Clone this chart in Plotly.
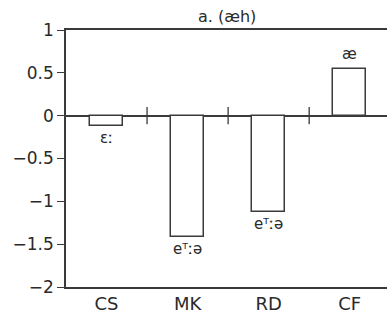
import plotly.graph_objects as go

categories = ["CS", "MK", "RD", "CF"]
values = [-0.12, -1.42, -1.13, 0.55]
phones = ["ɛː", "eᵀːə", "eᵀːə", "æ"]
title_text = "a. (æh)"
y_ticks = [1, 0.5, 0, -0.5, -1, -1.5, -2]

line_col = "#3a3a3a"
text_col = "#2a2a2a"
font_fam = "DejaVu Sans, Liberation Sans, Arial"

fig = go.Figure()
fig.add_trace(go.Bar(
    x=categories, y=values, width=0.41,
    marker=dict(color="white", line=dict(color=line_col, width=1.5)),
    showlegend=False, hoverinfo="skip",
))

annotations = []
for c, v, p in zip(categories, values, phones):
    if v >= 0:
        annotations.append(dict(x=c, y=v, text=p, showarrow=False, xref="x", yref="y",
                                yanchor="bottom", yshift=4,
                                font=dict(size=15, color=text_col, family=font_fam)))
    else:
        annotations.append(dict(x=c, y=v, text=p, showarrow=False, xref="x", yref="y",
                                yanchor="top", yshift=-1,
                                font=dict(size=15, color=text_col, family=font_fam)))
annotations.append(dict(x=0.5, y=1, xref="paper", yref="paper", text=title_text,
                        showarrow=False, yanchor="bottom", yshift=2,
                        font=dict(size=16, color=text_col, family=font_fam)))

shapes = []
for i in range(len(categories) - 1):
    shapes.append(dict(type="line", xref="x", yref="y", x0=i + 0.5, x1=i + 0.5,
                       y0=-0.1, y1=0.1, line=dict(color=line_col, width=1.3)))

fig.update_layout(
    width=387, height=313,
    margin=dict(l=66, r=0, t=30, b=26, autoexpand=False),
    paper_bgcolor="white", plot_bgcolor="white",
    font=dict(family=font_fam, color=text_col),
    annotations=annotations, shapes=shapes,
    bargap=0,
)
fig.update_xaxes(
    type="category", range=[-0.5, 3.46], automargin=False,
    showline=True, linecolor=line_col, linewidth=1.5, mirror=True,
    ticks="", showgrid=False, zeroline=False,
    tickfont=dict(size=18, color=text_col, family=font_fam),
    ticklabelstandoff=0,
)
fig.update_yaxes(
    range=[-2, 1], tickvals=y_ticks, automargin=False,
    showline=True, linecolor=line_col, linewidth=1.5,
    ticks="outside", ticklen=7, tickcolor=line_col, tickwidth=1.3,
    showgrid=False, zeroline=True, zerolinecolor=line_col, zerolinewidth=1.5,
    tickfont=dict(size=17, color=text_col, family=font_fam),
)
fig.write_html("out.html", config={"displayModeBar": False},
               post_script="document.body.style.margin='0';")
